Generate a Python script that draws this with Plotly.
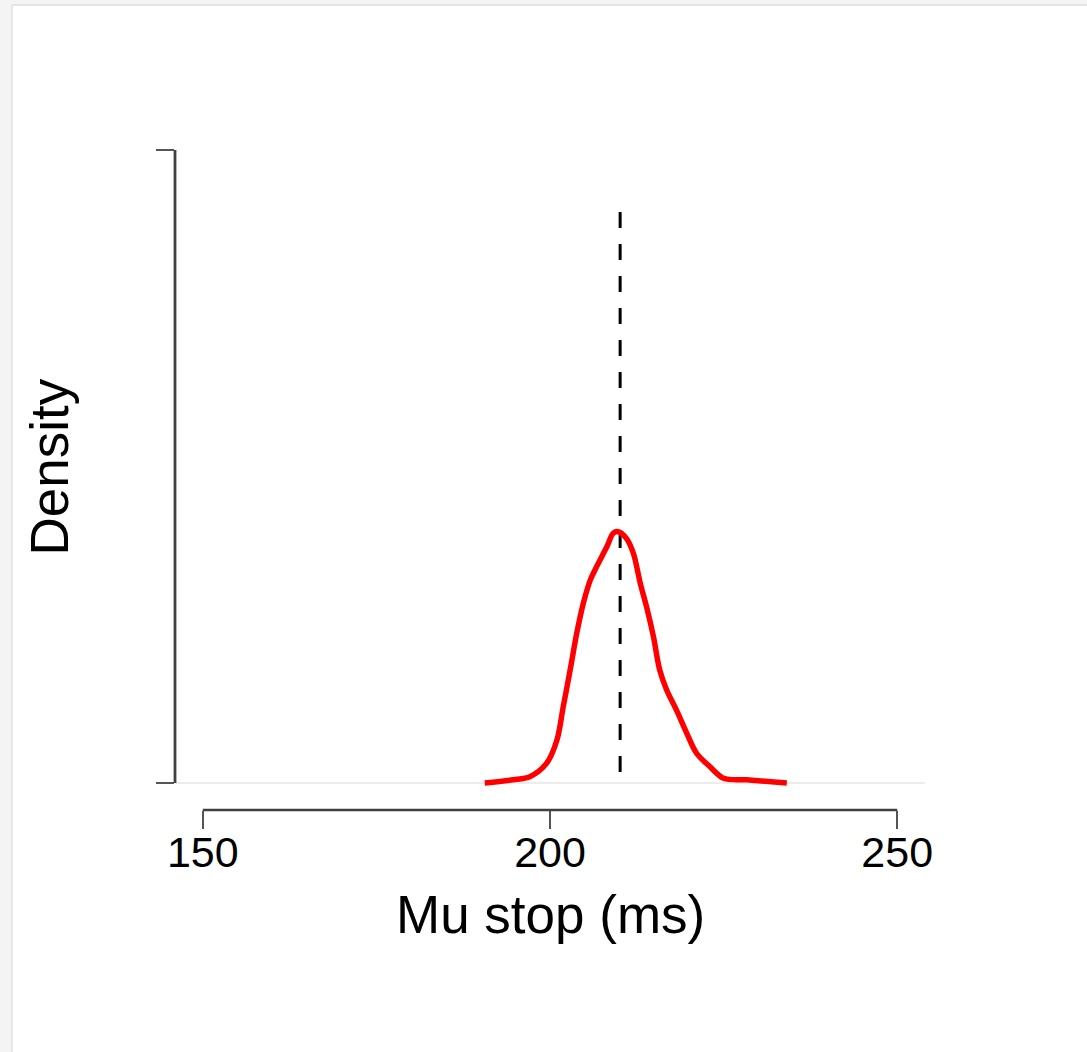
import plotly.graph_objects as go

# Posterior density of the stop-signal mean (ms)
mu_stop = [190.6, 194.7, 197.1, 199.5, 201.0, 201.9, 202.9, 203.85, 204.8, 205.8,
           206.7, 208.2, 209.1, 209.8, 211.0, 212.0, 213.0, 213.9, 214.9, 215.8,
           216.8, 218.2, 219.7, 221.1, 223.0, 225.0, 228.3, 234.1]
density = [0.0, 0.001, 0.002, 0.0062, 0.0136, 0.024, 0.0357, 0.0473, 0.0568, 0.0641,
           0.0683, 0.0747, 0.0789, 0.0794, 0.0773, 0.0726, 0.0631, 0.0557, 0.0462, 0.0357,
           0.0294, 0.0231, 0.0157, 0.0094, 0.0052, 0.0015, 0.001, 0.0]

# Posterior median marker
median_x = 210.1
median_top = 0.1804

x_ticks = [150, 200, 250]
y_ticks = [0, 0.2]

# Page geometry (pixels)
W, H = 1087, 1052
L, R, T, B = 175, 925, 140, 810
plot_w, plot_h = R - L, B - T

x_range = [146, 254]
y_px_per_unit = (783 - 150) / y_ticks[-1]
y_range = [-(B - 783) / y_px_per_unit, y_ticks[-1] + (150 - T) / y_px_per_unit]


def px_x(px):
    return (px - L) / plot_w


def px_y(py):
    return (B - py) / plot_h


fig = go.Figure()

fig.add_trace(go.Scatter(
    x=[median_x, median_x], y=[median_top, 0], mode="lines",
    line=dict(color="black", width=3, dash="16px,16px"),
    hoverinfo="skip", showlegend=False,
))
fig.add_trace(go.Scatter(
    x=mu_stop, y=density, mode="lines",
    line=dict(color="#ff0000", width=5.5, shape="spline", smoothing=0.9),
    showlegend=False,
))

axis_color = "#404040"
shapes = [
    # card background with a soft border on the top and left
    dict(type="rect", xref="paper", yref="paper", layer="below",
         x0=px_x(12), x1=px_x(W + 20), y0=px_y(H + 20), y1=px_y(5),
         fillcolor="white", line=dict(color="#e6e6e6", width=2)),
    # x axis line spanning the tick range
    dict(type="line", xref="x", yref="paper", x0=x_ticks[0], x1=x_ticks[-1], y0=0, y1=0,
         line=dict(color=axis_color, width=2.5)),
    # y axis line spanning the tick range
    dict(type="line", xref="paper", yref="y", x0=0, x1=0, y0=y_ticks[0], y1=y_ticks[-1],
         line=dict(color=axis_color, width=2.8)),
]

annotations = [
    dict(text="Mu stop (ms)", xref="paper", yref="paper", x=0.5, y=px_y(914),
         xanchor="center", yanchor="middle", showarrow=False,
         font=dict(size=53, color="black")),
    dict(text="Density", xref="paper", yref="paper", x=px_x(49), y=px_y(466.5),
         xanchor="center", yanchor="middle", showarrow=False, textangle=-90,
         font=dict(size=53, color="black")),
]

fig.update_layout(
    width=W, height=H,
    margin=dict(l=L, r=W - R, t=T, b=H - B, pad=0),
    paper_bgcolor="#f4f4f4",
    plot_bgcolor="white",
    font=dict(family="Liberation Sans, Arial, sans-serif", color="black"),
    shapes=shapes,
    annotations=annotations,
    xaxis=dict(range=x_range, tickvals=x_ticks, ticks="outside", ticklen=18,
               tickwidth=2, tickcolor="#555555", showgrid=False, zeroline=False,
               showline=False, ticklabelstandoff=-14,
               tickfont=dict(size=43, color="black")),
    yaxis=dict(range=y_range, tickvals=y_ticks, ticks="outside", ticklen=18,
               tickwidth=2, tickcolor="#555555", showticklabels=False, showgrid=False,
               zeroline=True, zerolinecolor="#ececec", zerolinewidth=2, showline=False),
)

fig.write_html("out.html")
